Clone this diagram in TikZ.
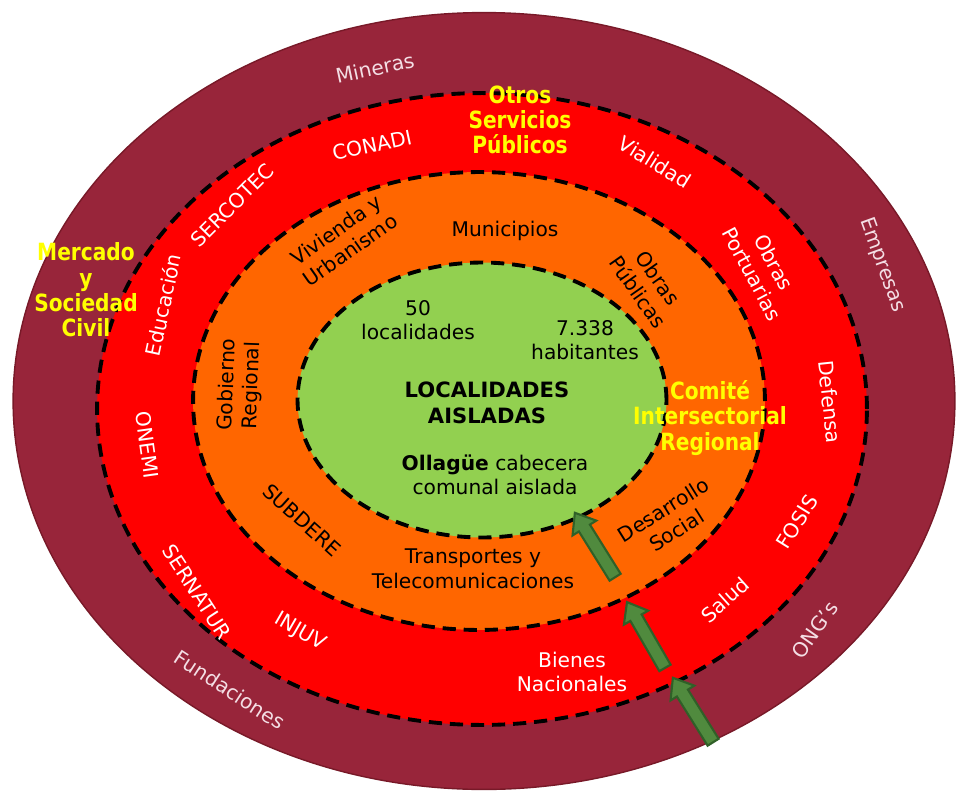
\documentclass[tikz,border=0pt]{standalone}
\usepackage{fontspec}
\setmainfont{DejaVu Sans}
\newfontfamily\estrecha[FakeStretch=0.85]{DejaVu Sans}
\definecolor{vino}{RGB}{152,37,58}
\definecolor{vinoborde}{RGB}{120,25,40}
\definecolor{rojo}{RGB}{255,0,0}
\definecolor{naranja}{RGB}{255,102,0}
\definecolor{verde}{RGB}{146,208,80}
\definecolor{verdeflecha}{RGB}{80,138,62}
\definecolor{verdeosc}{RGB}{48,96,40}
\definecolor{amarillo}{RGB}{255,255,0}
\definecolor{rosado}{RGB}{244,222,228}

\begin{document}
\begin{tikzpicture}[x=0.02cm,y=-0.02cm,
    anillo/.style={draw=black,line width=2.2pt,dash pattern=on 7.5pt off 4.5pt},
    texto/.style={font=\fontsize{11.5}{14}\selectfont,align=center,inner sep=1pt},
    blanco/.style={texto,text=white},
    rosa/.style={texto,text=rosado},
    negro/.style={texto,text=black},
    destacado/.style={font=\estrecha\bfseries\fontsize{13.5}{14.4}\selectfont,text=amarillo,align=center,inner sep=1pt},
    flechita/.pic={
      \filldraw[fill=verdeflecha,draw=verdeosc,line width=1.2pt,line join=miter]
        (-0.76cm,-0.13cm) -- (0.4cm,-0.13cm) -- (0.4cm,-0.28cm) -- (0.76cm,0cm)
        -- (0.4cm,0.28cm) -- (0.4cm,0.13cm) -- (-0.76cm,0.13cm) -- cycle;
    }
  ]
\useasboundingbox (0,0) rectangle (956,791);
% anillos
\filldraw[fill=vino,draw=vinoborde,line width=0.8pt] (484,401) ellipse [x radius=9.42cm,y radius=7.77cm];
\filldraw[fill=rojo,anillo] (482,409) ellipse [x radius=7.7cm,y radius=6.32cm];
\filldraw[fill=naranja,anillo] (479,401) ellipse [x radius=5.72cm,y radius=4.58cm];
\filldraw[fill=verde,anillo] (482,400) ellipse [x radius=3.69cm,y radius=2.75cm];

% anillo exterior
\node[rosa,rotate=12] (mineras) at (375,68) {Mineras};
\node[rosa,rotate=-70] (empresas) at (882,265) {Empresas};
\node[rosa,rotate=55] (ongs) at (815,630) {ONG’s};
\node[rosa,rotate=-33] (fundaciones) at (230,690) {Fundaciones};
\node[destacado] (mercado) at (86,290) {Mercado\\y\\Sociedad\\Civil};

% servicios publicos
\node[destacado] (otros) at (520,120) {Otros\\Servicios\\Públicos};
\node[blanco,rotate=12] (conadi) at (372,145) {CONADI};
\node[blanco,rotate=45] (sercotec) at (232,205) {SERCOTEC};
\node[blanco,rotate=-32] (vialidad) at (655,162) {Vialidad};
\node[blanco,rotate=-62] (portuarias) at (763,268) {Obras\\Portuarias};
\node[blanco,rotate=78] (educacion) at (163,305) {Educación};
\node[blanco,rotate=-84] (defensa) at (830,402) {Defensa};
\node[blanco,rotate=-82] (onemi) at (147,445) {ONEMI};
\node[blanco,rotate=58] (fosis) at (797,522) {FOSIS};
\node[blanco,rotate=-57] (sernatur) at (197,592) {SERNATUR};
\node[blanco,rotate=42] (salud) at (725,600) {Salud};
\node[blanco,rotate=-30] (injuv) at (300,632) {INJUV};
\node[blanco] (bienes) at (572,672) {Bienes\\Nacionales};

% comite
\node[negro,rotate=35] (vivienda) at (343,240) {Vivienda y\\Urbanismo};
\node[negro] (municipios) at (505,231) {Municipios};
\node[negro,rotate=-55] (publicas) at (648,285) {Obras\\Públicas};
\node[negro,rotate=88] (gobierno) at (240,385) {Gobierno\\Regional};
\node[destacado] (comite) at (710,418) {Comité\\Intersectorial\\Regional};
\node[negro,rotate=-42] (subdere) at (302,520) {SUBDERE};
\node[negro,rotate=32] (desarrollo) at (670,520) {Desarrollo\\Social};
\node[negro] (transportes) at (473,569) {Transportes y\\Telecomunicaciones};

% localidades
\node[negro] (cincuenta) at (418,320) {50\\localidades};
\node[negro] (habitantes) at (585,340) {7.338\\habitantes};
\node[negro,font=\bfseries\fontsize{12}{14.5}\selectfont] (localidades) at (487,403) {LOCALIDADES\\AISLADAS};
\node[negro] (ollague) at (495,475) {\textbf{Ollagüe} cabecera\\comunal aislada};

% flechas
\pic[rotate=122] (f1) at (595,545) {flechita};
\pic[rotate=120] (f2) at (646,635) {flechita};
\pic[rotate=122] (f3) at (693,710) {flechita};
\end{tikzpicture}
\end{document}
